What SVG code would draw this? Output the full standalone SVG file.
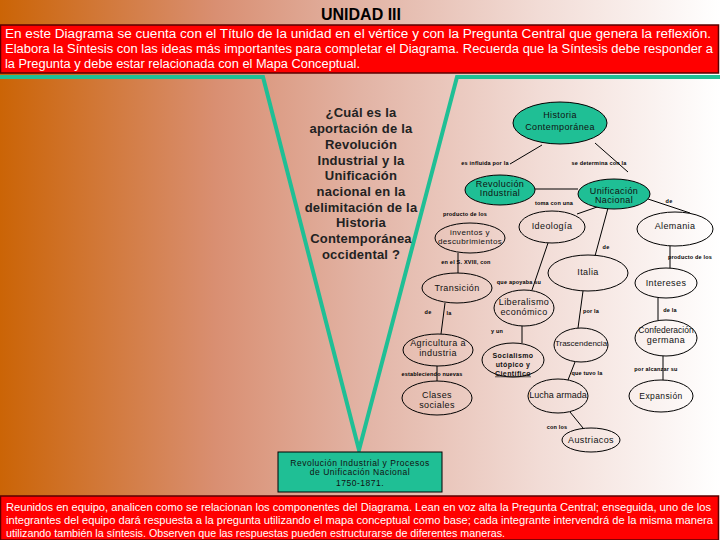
<svg xmlns="http://www.w3.org/2000/svg" width="720" height="540" viewBox="0 0 720 540">
<defs>
<linearGradient id="bg" x1="0" y1="0" x2="1" y2="0">
<stop offset="0" stop-color="#CB6406"/>
<stop offset="0.3" stop-color="#D98F72"/>
<stop offset="0.5" stop-color="#E2B3A4"/>
<stop offset="0.75" stop-color="#F2DCD6"/>
<stop offset="1" stop-color="#FFFFFF"/>
</linearGradient>
<style>
.n{fill:none;stroke:#000;stroke-width:1}
.t{fill:#1FBF95;stroke:#000;stroke-width:1}
.nt{font-family:"Liberation Sans",Arial,sans-serif;font-size:9px;fill:#111;text-anchor:middle;letter-spacing:0.4px}
.lb{font-family:"Liberation Sans",Arial,sans-serif;font-size:5.5px;font-weight:bold;fill:#000;text-anchor:middle;letter-spacing:0.2px}
.c line{stroke:#000;stroke-width:1}
.w{font-family:"Liberation Sans",Arial,sans-serif;fill:#fff}
</style>
</defs>
<rect x="0" y="0" width="720" height="540" fill="url(#bg)"/>
<text x="361" y="20" font-family="Liberation Sans,Arial,sans-serif" font-size="16" font-weight="bold" text-anchor="middle" fill="#000">UNIDAD III</text>
<g id="intro">
<rect x="0.5" y="25" width="718" height="48" fill="#FF0000" stroke="#5A0000" stroke-width="1.5"/>
<text class="w" font-size="12.5" x="5" y="38" textLength="706" lengthAdjust="spacingAndGlyphs">En este Diagrama se cuenta con el Título de la unidad en el vértice y con la Pregunta Central que genera la reflexión.</text>
<text class="w" font-size="12.5" x="5" y="53" textLength="708" lengthAdjust="spacingAndGlyphs">Elabora la Síntesis con las ideas más importantes para completar el Diagrama. Recuerda que la Síntesis debe responder a</text>
<text class="w" font-size="12.5" x="5" y="68" textLength="355" lengthAdjust="spacingAndGlyphs">la Pregunta y debe estar relacionada con el Mapa Conceptual.</text>
</g>
<polyline id="vee" points="0,77 263,77 359,450 457,77 720,77" fill="none" stroke="#1FBF95" stroke-width="4" stroke-linejoin="miter"/>
<g id="question" font-family="Liberation Sans,Arial,sans-serif" font-size="13" font-weight="bold" fill="#222" text-anchor="middle" letter-spacing="0.2">
<text x="361" y="117">¿Cuál es la</text>
<text x="361" y="133">aportación de la</text>
<text x="361" y="149">Revolución</text>
<text x="361" y="165">Industrial y la</text>
<text x="361" y="180">Unificación</text>
<text x="361" y="196">nacional en la</text>
<text x="361" y="212">delimitación de la</text>
<text x="361" y="227">Historia</text>
<text x="361" y="243">Contemporánea</text>
<text x="361" y="259">occidental ?</text>
</g>
<g id="connectors" class="c">
<line x1="542" y1="145" x2="510" y2="164"/>
<line x1="595" y1="143" x2="628" y2="172"/>
<line x1="535" y1="189" x2="578" y2="189"/>
<line x1="600" y1="206" x2="577" y2="214"/>
<line x1="608" y1="208" x2="595" y2="256"/>
<line x1="648" y1="199" x2="690" y2="213"/>
<line x1="670" y1="246" x2="670" y2="268"/>
<line x1="458" y1="253" x2="458" y2="273"/>
<line x1="548" y1="243" x2="532" y2="290"/>
<line x1="445" y1="303" x2="441" y2="334"/>
<line x1="583" y1="291" x2="578" y2="328"/>
<line x1="658" y1="298" x2="658" y2="320"/>
<line x1="522" y1="326" x2="522" y2="343"/>
<line x1="437" y1="366" x2="437" y2="381"/>
<line x1="575" y1="362" x2="568" y2="380"/>
<line x1="663" y1="356" x2="663" y2="380"/>
<line x1="570" y1="412" x2="583" y2="428"/>
</g>
<g id="labels">
<text class="lb" x="485" y="165">es influida por la</text>
<text class="lb" x="599" y="165">se determina con la</text>
<text class="lb" x="554" y="205">toma con una</text>
<text class="lb" x="669" y="203">de</text>
<text class="lb" x="465" y="216">producto de los</text>
<text class="lb" x="606" y="249">de</text>
<text class="lb" x="690" y="259">producto de los</text>
<text class="lb" x="466" y="264">en el S. XVIII, con</text>
<text class="lb" x="519" y="284">que apoyaba su</text>
<text class="lb" x="428" y="314">de</text>
<text class="lb" x="449" y="315">la</text>
<text class="lb" x="591" y="313">por la</text>
<text class="lb" x="670" y="312">de la</text>
<text class="lb" x="497" y="333">y un</text>
<text class="lb" x="432" y="376">estableciendo nuevas</text>
<text class="lb" x="587" y="375">que tuvo la</text>
<text class="lb" x="656" y="371">por alcanzar su</text>
<text class="lb" x="557" y="429">con los</text>
</g>
<g id="hc"><ellipse class="t" cx="560" cy="123" rx="47" ry="21"/><text class="nt" x="560" y="118">Historia</text><text class="nt" x="560" y="130">Contemporánea</text></g>
<g id="ri"><ellipse class="t" cx="500" cy="190" rx="35" ry="15"/><text class="nt" x="500" y="186.5">Revolución</text><text class="nt" x="500" y="195.5">Industrial</text></g>
<g id="un"><ellipse class="t" cx="614" cy="194" rx="36" ry="15"/><text class="nt" x="614" y="193.5">Unificación</text><text class="nt" x="614" y="202.5">Nacional</text></g>
<g id="inv"><ellipse class="n" cx="470" cy="238" rx="35" ry="15"/><text class="nt" style="font-size:8px" x="470" y="235">inventos y</text><text class="nt" style="font-size:8px" x="470" y="243.5">descubrimientos</text></g>
<g id="ide"><ellipse class="n" cx="552" cy="227" rx="33" ry="16"/><text class="nt" x="552" y="228.5">Ideología</text></g>
<g id="ale"><ellipse class="n" cx="675" cy="229" rx="38" ry="17"/><text class="nt" x="675" y="228.5">Alemania</text></g>
<g id="ita"><ellipse class="n" cx="588" cy="273" rx="40" ry="18"/><text class="nt" x="588" y="275">Italia</text></g>
<g id="int"><ellipse class="n" cx="666" cy="283" rx="31" ry="15"/><text class="nt" x="666" y="286">Intereses</text></g>
<g id="tra"><ellipse class="n" cx="457" cy="288" rx="35" ry="15"/><text class="nt" x="457" y="291">Transición</text></g>
<g id="lib"><ellipse class="n" cx="524" cy="308" rx="30" ry="18"/><text class="nt" x="524" y="305">Liberalismo</text><text class="nt" x="524" y="315">económico</text></g>
<g id="agr"><ellipse class="n" cx="438" cy="350" rx="35" ry="16"/><text class="nt" x="438" y="345.5">Agricultura a</text><text class="nt" x="438" y="355.5">industria</text></g>
<g id="soc"><ellipse class="n" cx="513" cy="360" rx="31" ry="17"/><text class="nt" style="font-size:7px;font-weight:bold" x="513" y="358">Socialismo</text><text class="nt" style="font-size:7px;font-weight:bold" x="513" y="367">utópico y</text><text class="nt" style="font-size:7px;font-weight:bold;text-decoration:underline" x="513" y="375.5">Científico</text></g>
<g id="trs"><ellipse class="n" cx="581" cy="345" rx="27" ry="17"/><text class="nt" style="font-size:8px;letter-spacing:0" x="581" y="346">Trascendencia</text></g>
<g id="con"><ellipse class="n" cx="666" cy="338" rx="31" ry="18"/><text class="nt" style="font-size:8.5px;letter-spacing:0" x="666" y="333">Confederación</text><text class="nt" x="666" y="343">germana</text></g>
<g id="luc"><ellipse class="n" cx="558" cy="396" rx="30" ry="17"/><text class="nt" style="letter-spacing:0" x="558" y="398">Lucha armada</text></g>
<g id="exp"><ellipse class="n" cx="661" cy="396" rx="32" ry="16"/><text class="nt" style="font-size:8.5px" x="661" y="399">Expansión</text></g>
<g id="cla"><ellipse class="n" cx="437" cy="398" rx="35" ry="17"/><text class="nt" x="437" y="398">Clases</text><text class="nt" x="437" y="408">sociales</text></g>
<g id="aus"><ellipse class="n" cx="591" cy="440" rx="29" ry="12"/><text class="nt" x="591" y="443">Austriacos</text></g>
<g id="unit">
<rect x="278" y="452" width="164" height="40" fill="#1FBF95" stroke="#000" stroke-width="1"/>
<text class="nt" style="font-size:8.5px;letter-spacing:0.5px" x="360" y="465.5">Revolución Industrial y Procesos</text>
<text class="nt" style="font-size:8.5px;letter-spacing:0.5px" x="360" y="475">de Unificación Nacional</text>
<text class="nt" style="font-size:8.5px;letter-spacing:0.5px" x="360" y="485.5">1750-1871.</text>
</g>
<g id="instructions">
<rect x="0.5" y="496" width="718" height="44" fill="#FF0000" stroke="#5A0000" stroke-width="1.5"/>
<text class="w" font-size="11" x="6" y="511" textLength="705" lengthAdjust="spacingAndGlyphs">Reunidos en equipo, analicen como se relacionan los componentes del Diagrama. Lean en voz alta la Pregunta Central; enseguida, uno de los</text>
<text class="w" font-size="11" x="6" y="524" textLength="707" lengthAdjust="spacingAndGlyphs">integrantes del equipo dará respuesta a la pregunta utilizando el mapa conceptual como base; cada integrante intervendrá de la misma manera</text>
<text class="w" font-size="11" x="6" y="537" textLength="499" lengthAdjust="spacingAndGlyphs">utilizando también la síntesis. Observen que las respuestas pueden estructurarse de diferentes maneras.</text>
</g>
</svg>
